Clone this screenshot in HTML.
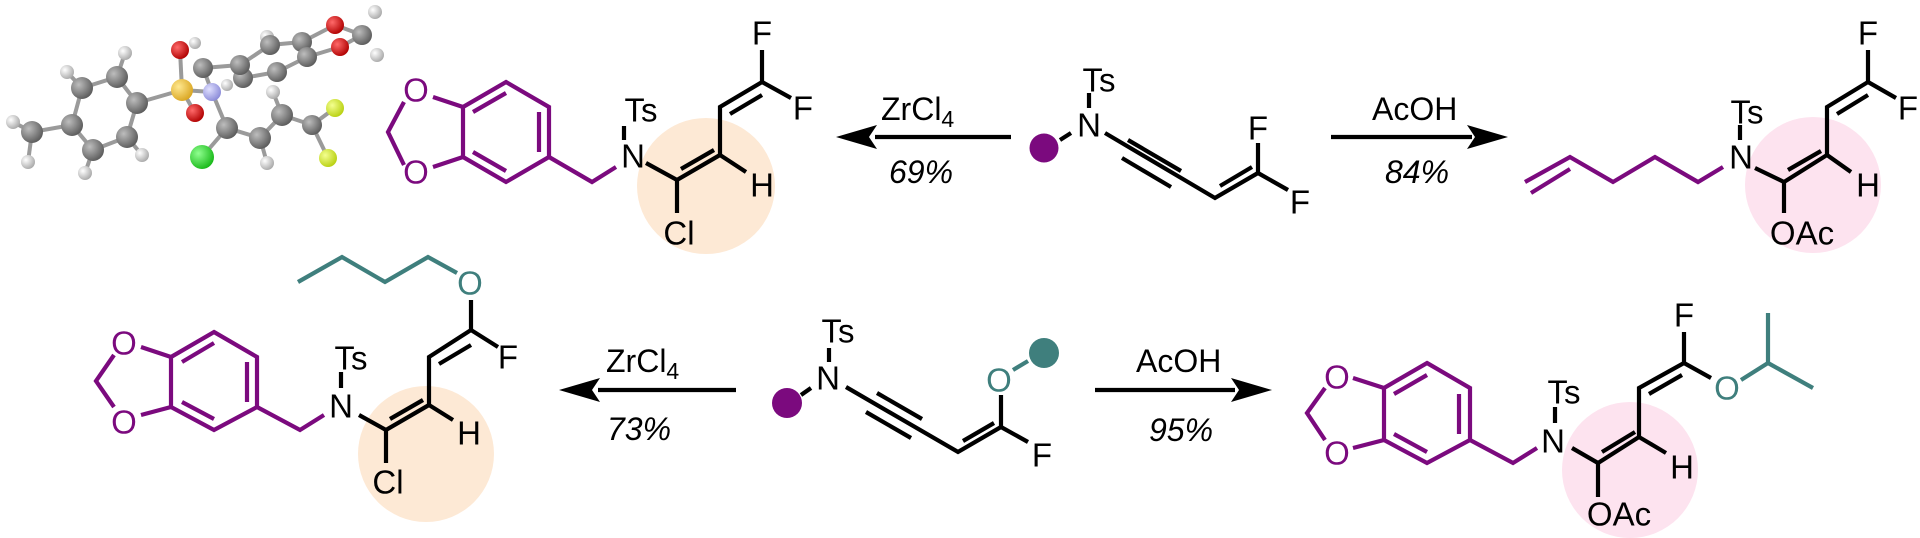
<!DOCTYPE html>
<html><head><meta charset="utf-8"><style>
html,body{margin:0;padding:0;background:#fff;}
svg{display:block;}
text{font-family:"Liberation Sans",Arial,sans-serif;}
</style></head><body>
<svg width="1920" height="538" viewBox="0 0 1920 538" xmlns="http://www.w3.org/2000/svg">
<defs>
<radialGradient id="gC" cx="35%" cy="35%" r="70%"><stop offset="0" stop-color="#bdbdbd"/><stop offset="1" stop-color="#5a5a5a"/></radialGradient>
<radialGradient id="gH" cx="35%" cy="35%" r="70%"><stop offset="0" stop-color="#ffffff"/><stop offset="1" stop-color="#a8a8a8"/></radialGradient>
<radialGradient id="gO" cx="35%" cy="35%" r="70%"><stop offset="0" stop-color="#ff6a6a"/><stop offset="1" stop-color="#b00000"/></radialGradient>
<radialGradient id="gS" cx="35%" cy="35%" r="70%"><stop offset="0" stop-color="#ffe890"/><stop offset="1" stop-color="#d9a520"/></radialGradient>
<radialGradient id="gN" cx="35%" cy="35%" r="70%"><stop offset="0" stop-color="#e0e0ff"/><stop offset="1" stop-color="#8a8ad8"/></radialGradient>
<radialGradient id="gCl" cx="35%" cy="35%" r="70%"><stop offset="0" stop-color="#90ff90"/><stop offset="1" stop-color="#18b818"/></radialGradient>
<radialGradient id="gF" cx="35%" cy="35%" r="70%"><stop offset="0" stop-color="#f4ff90"/><stop offset="1" stop-color="#b8d010"/></radialGradient>
</defs>

<g stroke="#9a9a9a" stroke-width="4" fill="none">
<polyline points="82,88 117,77 137,103 127,137 93,150 72,125 82,88"/>
<line x1="72" y1="125" x2="32" y2="132"/><line x1="137" y1="103" x2="182" y2="90"/>
<line x1="182" y1="90" x2="180" y2="50"/><line x1="182" y1="90" x2="195" y2="113"/><line x1="182" y1="90" x2="212" y2="92"/>
<line x1="212" y1="92" x2="203" y2="68"/><line x1="203" y1="68" x2="240" y2="65"/>
<polyline points="240,65 270,45 302,42 307,57 277,72 243,78 240,65"/>
<line x1="302" y1="42" x2="335" y2="25"/><line x1="307" y1="57" x2="340" y2="47"/><line x1="335" y1="25" x2="362" y2="35"/><line x1="340" y1="47" x2="362" y2="35"/>
<polyline points="212,92 227,128 260,138 282,115 312,125"/>
<line x1="227" y1="128" x2="202" y2="157"/><line x1="312" y1="125" x2="335" y2="108"/><line x1="312" y1="125" x2="328" y2="158"/>
<line x1="82" y1="88" x2="67" y2="72"/><line x1="117" y1="77" x2="125" y2="53"/><line x1="32" y1="132" x2="13" y2="122"/><line x1="32" y1="132" x2="28" y2="162"/>
<line x1="93" y1="150" x2="85" y2="173"/><line x1="127" y1="137" x2="142" y2="155"/><line x1="260" y1="138" x2="267" y2="163"/><line x1="282" y1="115" x2="273" y2="92"/>
</g>
<g>
<circle cx="67" cy="72" r="7" fill="url(#gH)"/><circle cx="125" cy="53" r="7" fill="url(#gH)"/><circle cx="13" cy="122" r="7" fill="url(#gH)"/><circle cx="28" cy="162" r="7" fill="url(#gH)"/><circle cx="85" cy="173" r="7" fill="url(#gH)"/><circle cx="142" cy="155" r="7" fill="url(#gH)"/>
<circle cx="195" cy="43" r="6" fill="url(#gH)"/><circle cx="227" cy="85" r="6" fill="url(#gH)"/><circle cx="267" cy="37" r="7" fill="url(#gH)"/><circle cx="375" cy="12" r="7" fill="url(#gH)"/><circle cx="377" cy="55" r="7" fill="url(#gH)"/><circle cx="267" cy="163" r="7" fill="url(#gH)"/><circle cx="273" cy="92" r="7" fill="url(#gH)"/>
<circle cx="82" cy="88" r="11" fill="url(#gC)"/><circle cx="117" cy="77" r="11" fill="url(#gC)"/><circle cx="137" cy="103" r="11" fill="url(#gC)"/><circle cx="127" cy="137" r="11" fill="url(#gC)"/><circle cx="93" cy="150" r="11" fill="url(#gC)"/><circle cx="72" cy="125" r="11" fill="url(#gC)"/><circle cx="32" cy="132" r="11" fill="url(#gC)"/>
<circle cx="270" cy="45" r="10" fill="url(#gC)"/><circle cx="302" cy="42" r="10" fill="url(#gC)"/><circle cx="307" cy="57" r="10" fill="url(#gC)"/><circle cx="277" cy="72" r="10" fill="url(#gC)"/><circle cx="243" cy="78" r="10" fill="url(#gC)"/><circle cx="240" cy="65" r="10" fill="url(#gC)"/>
<circle cx="335" cy="25" r="9" fill="url(#gO)"/><circle cx="340" cy="47" r="9" fill="url(#gO)"/><circle cx="362" cy="35" r="10" fill="url(#gC)"/>
<circle cx="180" cy="50" r="9" fill="url(#gO)"/><circle cx="182" cy="90" r="11" fill="url(#gS)"/><circle cx="195" cy="113" r="9" fill="url(#gO)"/>
<circle cx="203" cy="68" r="10" fill="url(#gC)"/><circle cx="212" cy="92" r="9" fill="url(#gN)"/>
<circle cx="227" cy="128" r="11" fill="url(#gC)"/><circle cx="260" cy="138" r="11" fill="url(#gC)"/><circle cx="282" cy="115" r="11" fill="url(#gC)"/><circle cx="312" cy="125" r="10" fill="url(#gC)"/>
<circle cx="202" cy="157" r="12" fill="url(#gCl)"/><circle cx="335" cy="108" r="9" fill="url(#gF)"/><circle cx="328" cy="158" r="9" fill="url(#gF)"/>
</g>

<ellipse cx="706" cy="186" rx="69" ry="68" fill="#fde9d5"/>
<ellipse cx="1813" cy="185" rx="68" ry="68" fill="#fde3ef"/>
<ellipse cx="426" cy="454" rx="68" ry="68" fill="#fde9d5"/>
<ellipse cx="1630" cy="470" rx="68" ry="68" fill="#fde3ef"/>

<g stroke-width="4.2" stroke-linecap="butt" fill="none">
<g stroke="#7b0a7e">
<polyline points="404,102 388,132 404,165"/>
<line x1="433" y1="97" x2="463" y2="107"/><line x1="433" y1="167" x2="463" y2="157"/>
<polygon points="506,82 549,107 549,157 506,182 463,157 463,107"/>
<line x1="473" y1="112" x2="506" y2="93"/><line x1="539" y1="112" x2="539" y2="152"/><line x1="473" y1="152" x2="506" y2="171"/>
<polyline points="549,157 592,182 616,167"/>
</g>
<g stroke="#000">
<line x1="624" y1="126" x2="624" y2="140"/>
<polyline points="646,163 677,180 720,155 720,107 762,82 762,50"/>
<line x1="681" y1="169" x2="714" y2="150"/><line x1="730" y1="114" x2="762" y2="95"/>
<line x1="677" y1="180" x2="677" y2="213"/><line x1="720" y1="155" x2="746" y2="172"/><line x1="762" y1="82" x2="791" y2="98"/>
<line x1="875" y1="137" x2="1011" y2="137"/>
<line x1="1060" y1="140" x2="1071" y2="133"/><line x1="1089" y1="93" x2="1089" y2="108"/>
<polyline points="1105,133 1215,198 1258,173 1258,143"/>
<line x1="1128" y1="140" x2="1181" y2="171"/><line x1="1122" y1="158" x2="1171" y2="187"/>
<line x1="1220" y1="186" x2="1252" y2="167"/><line x1="1258" y1="173" x2="1288" y2="190"/>
<line x1="1331" y1="137" x2="1472" y2="137"/>
<line x1="1740" y1="125" x2="1740" y2="140"/>
<polyline points="1755,168 1784,182 1827,155 1827,107 1868,82 1868,50"/>
<line x1="1788" y1="170" x2="1821" y2="151"/><line x1="1837" y1="114" x2="1868" y2="95"/>
<line x1="1784" y1="182" x2="1784" y2="213"/><line x1="1827" y1="155" x2="1851" y2="172"/><line x1="1868" y1="82" x2="1896" y2="98"/>
</g>
<g stroke="#7b0a7e">
<polyline points="1525,182 1570,157 1613,182 1655,157 1698,182 1723,167"/>
<line x1="1531" y1="193" x2="1570" y2="169"/>
</g>

<g stroke="#3f7f7d"><polyline points="298,282 342,257 385,282 428,257 457,273"/></g>
<g stroke="#7b0a7e">
<polyline points="114,355 96,381 114,407"/>
<line x1="141" y1="347" x2="171" y2="357"/><line x1="141" y1="415" x2="171" y2="407"/>
<polygon points="214,332 257,357 257,407 214,430 171,407 171,357"/>
<line x1="182" y1="362" x2="214" y2="343"/><line x1="247" y1="362" x2="247" y2="402"/><line x1="182" y1="402" x2="214" y2="419"/>
<polyline points="257,407 300,430 324,415"/>
</g>
<g stroke="#000">
<line x1="341" y1="372" x2="341" y2="388"/>
<polyline points="359,415 386,430 429,405 429,357 471,330 471,300"/>
<line x1="390" y1="419" x2="423" y2="400"/><line x1="439" y1="364" x2="471" y2="345"/>
<line x1="386" y1="430" x2="386" y2="463"/><line x1="429" y1="405" x2="453" y2="420"/><line x1="471" y1="330" x2="498" y2="347"/>
<line x1="598" y1="390" x2="736" y2="390"/>
<line x1="801" y1="395" x2="811" y2="388"/><line x1="829" y1="348" x2="829" y2="362"/>
<polyline points="846,387 958,452 1001,427 1001,395"/>
<line x1="877" y1="393" x2="922" y2="419"/><line x1="866" y1="412" x2="911" y2="438"/>
<line x1="963" y1="441" x2="994" y2="423"/><line x1="1001" y1="427" x2="1028" y2="442"/>
<line x1="1095" y1="390" x2="1235" y2="390"/>
<line x1="1555" y1="407" x2="1555" y2="423"/>
<polyline points="1572,448 1598,463 1639,437 1639,388 1684,363 1684,332"/>
<line x1="1602" y1="452" x2="1635" y2="432"/><line x1="1649" y1="394" x2="1682" y2="375"/>
<line x1="1598" y1="463" x2="1598" y2="497"/><line x1="1639" y1="437" x2="1666" y2="453"/><line x1="1684" y1="363" x2="1711" y2="378"/>
</g>
<g stroke="#3f7f7d">
<line x1="1013" y1="370" x2="1028" y2="361"/>
<polyline points="1741,380 1768,363 1768,313"/><line x1="1768" y1="363" x2="1813" y2="388"/>
</g>
<g stroke="#7b0a7e">
<polyline points="1325,388 1307,413 1325,440"/>
<line x1="1353" y1="378" x2="1384" y2="388"/><line x1="1353" y1="448" x2="1384" y2="440"/>
<polygon points="1427,363 1470,388 1470,440 1427,463 1384,440 1384,388"/>
<line x1="1394" y1="394" x2="1427" y2="375"/><line x1="1459" y1="394" x2="1459" y2="434"/><line x1="1394" y1="434" x2="1427" y2="452"/>
<polyline points="1470,440 1513,463 1537,448"/>
</g>
</g>

<polygon points="836,137 877,125 869,137 877,149" fill="#000"/>
<polygon points="1508,137 1467,125 1475,137 1467,149" fill="#000"/>
<polygon points="559,390 600,378 592,390 600,402" fill="#000"/>
<polygon points="1272,390 1231,378 1239,390 1231,402" fill="#000"/>

<circle cx="1044" cy="148" r="14.5" fill="#7b0a7e"/>
<circle cx="787" cy="403" r="15" fill="#7b0a7e"/>
<circle cx="1044" cy="353" r="15" fill="#3f7f7d"/>

<g font-size="33" text-anchor="middle" dominant-baseline="central" fill="#000">
<text x="416" y="90" fill="#7b0a7e">O</text><text x="416" y="172" fill="#7b0a7e">O</text>
<text x="633" y="156">N</text><text x="641" y="110">Ts</text>
<text x="679" y="233">Cl</text><text x="762" y="185">H</text><text x="762" y="33">F</text><text x="803" y="108">F</text>
<text x="1089" y="125">N</text><text x="1099" y="80">Ts</text><text x="1258" y="128">F</text><text x="1300" y="202">F</text>
<text x="1741" y="157">N</text><text x="1747" y="112">Ts</text><text x="1802" y="233">OAc</text><text x="1868" y="185">H</text><text x="1868" y="33">F</text><text x="1908" y="108">F</text>
<text x="124" y="343" fill="#7b0a7e">O</text><text x="124" y="422" fill="#7b0a7e">O</text>
<text x="341" y="406">N</text><text x="351" y="358">Ts</text><text x="388" y="482">Cl</text><text x="469" y="433">H</text><text x="508" y="357">F</text><text x="470" y="283" fill="#3f7f7d">O</text>
<text x="828" y="378">N</text><text x="838" y="331">Ts</text><text x="999" y="380" fill="#3f7f7d">O</text><text x="1042" y="455">F</text>
<text x="1337" y="377" fill="#7b0a7e">O</text><text x="1337" y="453" fill="#7b0a7e">O</text>
<text x="1553" y="441">N</text><text x="1564" y="392">Ts</text><text x="1619" y="514">OAc</text><text x="1682" y="467">H</text><text x="1684" y="315">F</text><text x="1727" y="388" fill="#3f7f7d">O</text>
</g>
<g font-size="32" fill="#000">
<text x="881" y="120">ZrCl<tspan font-size="23" dy="7">4</tspan></text>
<text x="889" y="183" font-style="italic">69%</text>
<text x="1372" y="120">AcOH</text>
<text x="1385" y="183" font-style="italic">84%</text>
<text x="606" y="372">ZrCl<tspan font-size="23" dy="7">4</tspan></text>
<text x="607" y="440" font-style="italic">73%</text>
<text x="1136" y="372">AcOH</text>
<text x="1149" y="441" font-style="italic">95%</text>
</g>
</svg>
</body></html>
